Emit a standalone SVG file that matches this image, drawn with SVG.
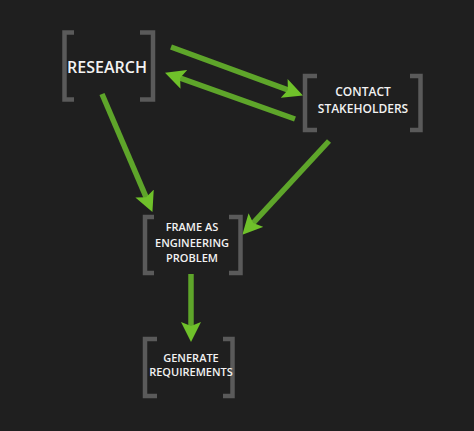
<svg xmlns="http://www.w3.org/2000/svg" width="474" height="431" viewBox="0 0 474 431">
<style>
.br{fill:none;stroke:#5a5a5a;stroke-width:4.5}
.t{font-family:"Open Sans","DejaVu Sans",sans-serif;font-weight:600;fill:#f2f2f2;text-anchor:middle}
.ln{stroke:#5ea52a;stroke-width:5.5;fill:none}
</style>
<defs>
<marker id="ah" viewBox="0 0 20 20" refX="9" refY="10" markerWidth="20" markerHeight="20" markerUnits="userSpaceOnUse" orient="auto">
<path d="M0,0 L20,10 L0,20 L4,10 Z" fill="#6fc12a"/>
</marker>
</defs>
<rect width="474" height="431" fill="#1f1f1f"/>
<g id="connectors">
<line class="ln" x1="171" y1="47" x2="292.6" y2="91.6" marker-end="url(#ah)"/>
<line class="ln" x1="295" y1="119" x2="175.4" y2="76.4" marker-end="url(#ah)"/>
<line class="ln" x1="102" y1="94" x2="148.1" y2="201.8" marker-end="url(#ah)"/>
<line class="ln" x1="329" y1="141" x2="249.8" y2="226.7" marker-end="url(#ah)"/>
<line class="ln" x1="191" y1="274" x2="191" y2="331" marker-end="url(#ah)"/>
</g>
<g id="research">
<path class="br" d="M74,32.5 H64.5 V99.5 H74" stroke-width="5"/>
<path class="br" d="M140,32.5 H153 V99.5 H140" stroke-width="5"/>
<text class="t" x="107" y="73" font-size="16" font-weight="700">RESEARCH</text>
</g>
<g id="contact">
<path class="br" d="M317,76 H305 V130 H317"/>
<path class="br" d="M410,76 H420.5 V130 H410"/>
<text class="t" x="363" y="96" font-size="12">CONTACT</text>
<text class="t" x="363" y="113" font-size="12">STAKEHOLDERS</text>
</g>
<g id="frame">
<path class="br" d="M154,217 H145 V273 H154"/>
<path class="br" d="M229,217 H240.5 V273 H229"/>
<text class="t" x="192" y="230.5" font-size="11">FRAME AS</text>
<text class="t" x="192" y="246.5" font-size="11">ENGINEERING</text>
<text class="t" x="192" y="261.5" font-size="11">PROBLEM</text>
</g>
<g id="generate">
<path class="br" d="M157,339 H145 V396 H157"/>
<path class="br" d="M223,339 H232.5 V396 H223"/>
<text class="t" x="191" y="361.5" font-size="11">GENERATE</text>
<text class="t" x="191" y="375.5" font-size="11">REQUIREMENTS</text>
</g>
</svg>
